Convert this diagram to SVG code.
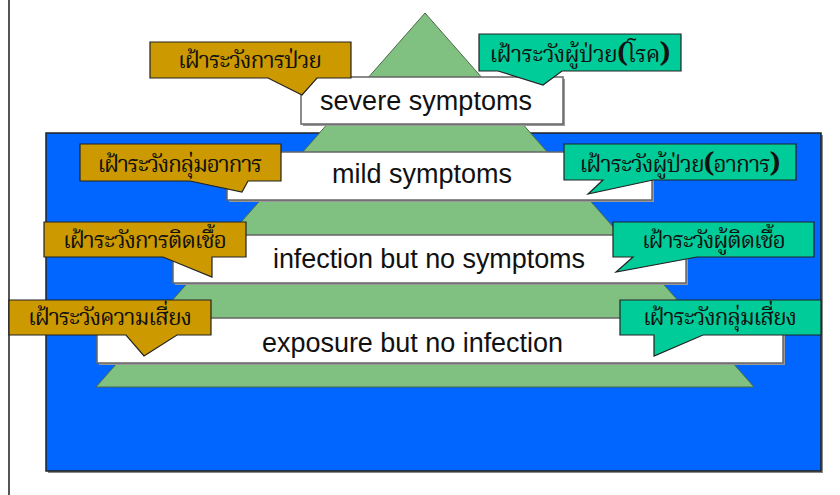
<svg xmlns="http://www.w3.org/2000/svg" width="840" height="495" viewBox="0 0 840 495">
<style>
.frame{stroke:#555;stroke-width:2;fill:none}
.band{fill:#fff;stroke:#666;stroke-width:1.5}
.shadow{fill:#999}
.en{font-family:"Liberation Sans",Arial,sans-serif;font-size:27px;fill:#111;text-anchor:middle}
.th{font-family:"Noto Serif Thai","Norasi","Noto Sans Thai","Liberation Serif",serif;font-size:23px;fill:#111;text-anchor:middle}
.gold{fill:#CC9900;stroke:#222;stroke-width:1.2}
.teal{fill:#00CC99;stroke:#222;stroke-width:1.2}
.par{font-weight:bold;font-size:27px}
</style>
<rect width="840" height="495" fill="#fff"/>
<line class="frame" x1="9" y1="0" x2="9" y2="495"/>
<g id="background">
<rect x="48" y="135" width="775" height="338" fill="#888"/>
<rect x="46" y="133" width="775" height="338" fill="#0066FF" stroke="#222" stroke-width="1.5"/>
</g>
<g id="pyramid">
<polygon points="425,13 96,387 754,387" fill="#80C080" stroke="#4a6a4a" stroke-width="1"/>
</g>
<g id="band-severe">
<rect class="shadow" x="303" y="79" width="262" height="47"/>
<rect class="band" x="301" y="77" width="262" height="47"/>
<text class="en" x="426" y="110" textLength="212">severe symptoms</text>
</g>
<g id="band-mild">
<rect class="shadow" x="229" y="154" width="425" height="48"/>
<rect class="band" x="227" y="152" width="425" height="48"/>
<text class="en" x="422" y="183" textLength="180">mild symptoms</text>
</g>
<g id="band-infection">
<rect class="shadow" x="175" y="237" width="513" height="48"/>
<rect class="band" x="173" y="235" width="513" height="48"/>
<text class="en" x="429" y="268" textLength="312">infection but no symptoms</text>
</g>
<g id="band-exposure">
<rect class="shadow" x="99" y="320" width="686" height="45"/>
<rect class="band" x="97" y="318" width="686" height="45"/>
<text class="en" x="412.5" y="352" textLength="301">exposure but no infection</text>
</g>
<g id="connectors"></g>
<g id="callout-illness">
<path class="gold" d="M150,42 H351 V78 H317 L302,95 L268,78 H150 Z"/>
<text class="th" x="250" y="68" textLength="144">เฝ้าระวังการป่วย</text>
</g>
<g id="callout-syndrome">
<path class="gold" d="M80,144 H281 V181 H248 L242,192 L190,181 H80 Z"/>
<text class="th" x="180" y="172" textLength="165">เฝ้าระวังกลุ่มอาการ</text>
</g>
<g id="callout-infection">
<path class="gold" d="M44,222 H246 V257 H212 L212,277 L163,257 H44 Z"/>
<text class="th" x="145" y="248" textLength="164">เฝ้าระวังการติดเชื้อ</text>
</g>
<g id="callout-risk">
<path class="gold" d="M9,300 H211 V335 H177 L144,356 L126,335 H9 Z"/>
<text class="th" x="110" y="325" textLength="164">เฝ้าระวังความเสี่ยง</text>
</g>
<g id="callout-patient-disease">
<path class="teal" d="M479,34 H681 V71 H562 L543,85 L498,71 H479 Z"/>
<text class="th" x="580" y="62" textLength="181">เฝ้าระวังผู้ป่วย<tspan class="par">(</tspan>โรค<tspan class="par">)</tspan></text>
</g>
<g id="callout-patient-symptom">
<path class="teal" d="M564,144 H796 V180 H653 L588,194 L603,180 H564 Z"/>
<text class="th" x="680" y="172" textLength="201">เฝ้าระวังผู้ป่วย<tspan class="par">(</tspan>อาการ<tspan class="par">)</tspan></text>
</g>
<g id="callout-infected">
<path class="teal" d="M613,222 H814 V257 H697 L616,272 L633,257 H613 Z"/>
<text class="th" x="714" y="248" textLength="144">เฝ้าระวังผู้ติดเชื้อ</text>
</g>
<g id="callout-risk-group">
<path class="teal" d="M620,300 H821 V335 H703 L654,356 L654,335 H620 Z"/>
<text class="th" x="720" y="325" textLength="154">เฝ้าระวังกลุ่มเสี่ยง</text>
</g>
</svg>
